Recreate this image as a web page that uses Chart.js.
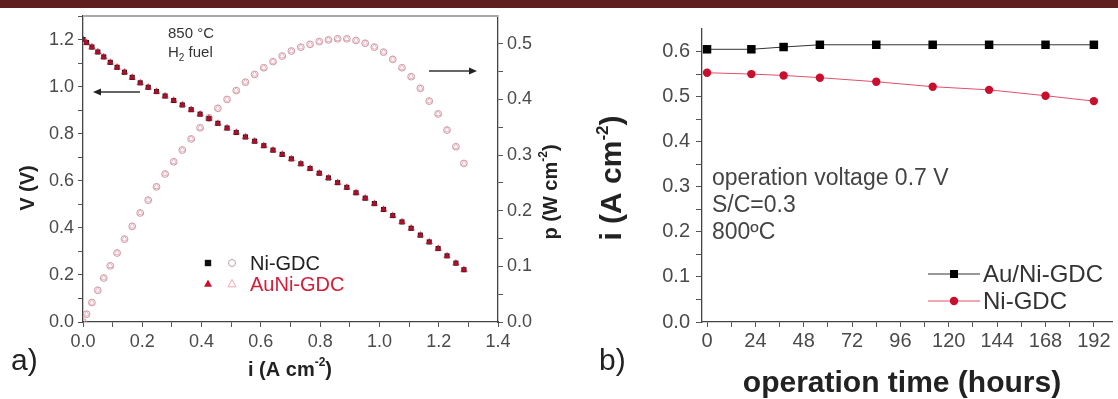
<!DOCTYPE html>
<html>
<head>
<meta charset="utf-8">
<script src="https://cdn.jsdelivr.net/npm/chart.js@4.4.1/dist/chart.umd.min.js"></script>
<style>
  html, body { margin: 0; padding: 0; background: #fff; }
  body { width: 1118px; height: 399px; position: relative; overflow: hidden; }
  #band { position: absolute; left: 0; top: 0; width: 1118px; height: 8px; background: #5f1f1f; }
  #chartA { position: absolute; left: 0; top: 0; }
  #chartB { position: absolute; left: 560px; top: 0; }
</style>
</head>
<body>
<canvas id="chartA" width="600" height="399"></canvas>
<canvas id="chartB" width="558" height="399"></canvas>
<div id="band"></div>
<script>
// ---- panel a) : V-i and p-i curves at 850 C, H2 fuel
const currentA = [0.000, 0.012, 0.030, 0.050, 0.070, 0.092, 0.115, 0.140, 0.166, 0.193, 0.220, 0.248, 0.277, 0.306, 0.335, 0.365, 0.395, 0.425, 0.455, 0.486, 0.517, 0.548, 0.579, 0.610, 0.641, 0.672, 0.703, 0.735, 0.766, 0.797, 0.828, 0.859, 0.890, 0.921, 0.952, 0.983, 1.014, 1.045, 1.076, 1.107, 1.138, 1.168, 1.198, 1.228, 1.258, 1.285];
const voltNi = [1.200, 1.187, 1.168, 1.147, 1.126, 1.103, 1.082, 1.061, 1.039, 1.016, 0.997, 0.979, 0.960, 0.941, 0.922, 0.902, 0.883, 0.864, 0.844, 0.824, 0.805, 0.786, 0.768, 0.749, 0.730, 0.712, 0.693, 0.672, 0.652, 0.632, 0.612, 0.592, 0.572, 0.549, 0.526, 0.503, 0.478, 0.452, 0.425, 0.398, 0.369, 0.340, 0.312, 0.281, 0.250, 0.222];
const powerNi = [0.000, 0.014, 0.035, 0.057, 0.079, 0.101, 0.124, 0.149, 0.172, 0.196, 0.219, 0.243, 0.266, 0.288, 0.309, 0.329, 0.349, 0.367, 0.384, 0.400, 0.416, 0.431, 0.445, 0.457, 0.468, 0.478, 0.487, 0.494, 0.499, 0.504, 0.507, 0.509, 0.509, 0.506, 0.501, 0.494, 0.485, 0.472, 0.457, 0.441, 0.420, 0.397, 0.374, 0.345, 0.315, 0.285];
// the AuNi-GDC curves sit on top of the Ni-GDC ones at this resolution
const voltAuNi = voltNi.slice();
const powerAuNi = powerNi.slice();

const iTickLabels = ['0.0', '0.2', '0.4', '0.6', '0.8', '1.0', '1.2', '1.4'];
const vTickLabels = ['0.0', '0.2', '0.4', '0.6', '0.8', '1.0', '1.2'];
const pTickLabels = ['0.0', '0.1', '0.2', '0.3', '0.4', '0.5'];

// ---- panel b) : current at 0.7 V vs operation time, 800 C
const hours = [0, 22, 38, 56, 84, 112, 140, 168, 192];
const auNiCurrent = [0.605, 0.605, 0.610, 0.615, 0.615, 0.615, 0.615, 0.615, 0.615];
const niCurrent = [0.553, 0.550, 0.547, 0.542, 0.533, 0.522, 0.515, 0.502, 0.490];

const hourTickLabels = ['0', '24', '48', '72', '96', '120', '144', '168', '192'];
const iTickLabelsB = ['0.0', '0.1', '0.2', '0.3', '0.4', '0.5', '0.6'];

const TICK_FONT = 'Liberation Sans, Arial, sans-serif';

function toXY(xs, ys) {
  return xs.map((x, k) => ({ x: x, y: ys[k] }));
}

// label only where a value matches one of the given tick labels
function labelFrom(list) {
  return function (value) {
    const hit = list.find(l => Math.abs(parseFloat(l) - value) < 1e-6);
    return hit === undefined ? '' : hit;
  };
}

// major ticks from the labels plus one minor tick in between
function ticksFrom(list) {
  return function (scale) {
    const vals = list.map(parseFloat);
    const out = [];
    for (let k = 0; k < vals.length; k++) {
      out.push({ value: vals[k] });
      if (k < vals.length - 1) out.push({ value: (vals[k] + vals[k + 1]) / 2 });
    }
    scale.ticks = out;
  };
}

function axis(opts) {
  return Object.assign({
    type: 'linear',
    grid: { drawOnChartArea: false, drawTicks: true, tickLength: 5, color: '#555', tickColor: '#555' },
    border: { display: true, color: '#444', width: 1.3 },
  }, opts);
}

// text made of pieces (for sub / superscripts)
function richText(ctx, parts, x, y, align, rot) {
  ctx.save();
  ctx.translate(x, y);
  if (rot) ctx.rotate(rot);
  ctx.textBaseline = 'middle';
  ctx.textAlign = 'left';
  let total = 0;
  parts.forEach(p => { ctx.font = p.font; total += ctx.measureText(p.t).width; });
  let cx = align === 'center' ? -total / 2 : 0;
  parts.forEach(p => {
    ctx.font = p.font;
    ctx.fillStyle = p.color || '#222';
    ctx.fillText(p.t, cx, p.dy || 0);
    cx += ctx.measureText(p.t).width;
  });
  ctx.restore();
}

function arrow(ctx, x1, x2, y) {
  const dir = x2 > x1 ? 1 : -1;
  ctx.save();
  ctx.strokeStyle = '#333';
  ctx.fillStyle = '#222';
  ctx.lineWidth = 1.5;
  ctx.beginPath();
  ctx.moveTo(x1, y);
  ctx.lineTo(x2 - dir * 6, y);
  ctx.stroke();
  ctx.beginPath();
  ctx.moveTo(x2, y);
  ctx.lineTo(x2 - dir * 8, y - 3.5);
  ctx.lineTo(x2 - dir * 8, y + 3.5);
  ctx.closePath();
  ctx.fill();
  ctx.restore();
}

function marker(ctx, style, x, y, r, fill, stroke) {
  ctx.save();
  ctx.beginPath();
  if (style === 'rect') {
    ctx.rect(x - r, y - r, 2 * r, 2 * r);
  } else if (style === 'triangle') {
    ctx.moveTo(x, y - r * 1.15);
    ctx.lineTo(x + r, y + r * 0.7);
    ctx.lineTo(x - r, y + r * 0.7);
    ctx.closePath();
  } else {
    ctx.arc(x, y, r, 0, Math.PI * 2);
  }
  if (fill) { ctx.fillStyle = fill; ctx.fill(); }
  if (stroke) { ctx.strokeStyle = stroke; ctx.lineWidth = 1; ctx.stroke(); }
  ctx.restore();
}

const decorA = {
  id: 'decorA',
  afterDraw(chart) {
    const ctx = chart.ctx;
    const a = chart.chartArea;
    // top frame
    ctx.save();
    ctx.strokeStyle = '#aaa';
    ctx.lineWidth = 2;
    ctx.beginPath();
    ctx.moveTo(a.left, a.top);
    ctx.lineTo(a.right, a.top);
    ctx.stroke();
    ctx.restore();

    richText(ctx, [{ t: '850 \u00B0C', font: '15px Liberation Sans, Arial', color: '#333' }], 168, 34, 'left');
    richText(ctx, [
      { t: 'H', font: '15px Liberation Sans, Arial', color: '#333' },
      { t: '2', font: '10px Liberation Sans, Arial', color: '#333', dy: 5 },
      { t: ' fuel', font: '15px Liberation Sans, Arial', color: '#333' }
    ], 168, 53, 'left');

    arrow(ctx, 140, 93, 92);
    arrow(ctx, 429, 477, 71);

    // legend
    marker(ctx, 'rect', 208, 263, 3.2, '#111', null);
    marker(ctx, 'circle', 232, 263, 3.5, null, '#b9a0a6');
    richText(ctx, [{ t: 'Ni-GDC', font: '20px Liberation Sans, Arial', color: '#222' }], 250, 264, 'left');
    marker(ctx, 'triangle', 208, 284, 4, '#c8102e', null);
    marker(ctx, 'triangle', 232, 284, 4, null, '#f0a5b3');
    richText(ctx, [{ t: 'AuNi-GDC', font: '20px Liberation Sans, Arial', color: '#d0203a' }], 250, 285, 'left');

    // axis titles
    const bold = 'bold 20px Liberation Sans, Arial';
    const sup = 'bold 12px Liberation Sans, Arial';
    richText(ctx, [{ t: 'V (V)', font: bold }], 28, 188, 'center', -Math.PI / 2);
    richText(ctx, [
      { t: 'i (A cm', font: bold }, { t: '-2', font: sup, dy: -7 }, { t: ')', font: bold }
    ], 290, 370, 'center');
    richText(ctx, [
      { t: 'p (W cm', font: bold }, { t: '-2', font: sup, dy: -7 }, { t: ')', font: bold }
    ], 551, 192, 'center', -Math.PI / 2);

    richText(ctx, [{ t: 'a)', font: '30px Liberation Sans, Arial', color: '#222' }], 11, 362, 'left');
  }
};

const chartA = new Chart(document.getElementById('chartA'), {
  type: 'scatter',
  data: {
    datasets: [
      { label: 'Ni-GDC p', data: toXY(currentA, powerNi), yAxisID: 'yP', order: 4,
        pointStyle: 'circle', pointRadius: 3.4, borderWidth: 1,
        borderColor: 'rgba(185,150,158,0.9)', backgroundColor: 'rgba(255,255,255,0)' },
      { label: 'AuNi-GDC p', data: toXY(currentA, powerAuNi), yAxisID: 'yP', order: 3,
        pointStyle: 'triangle', pointRadius: 3.4, borderWidth: 1,
        borderColor: 'rgba(240,160,176,0.85)', backgroundColor: 'rgba(255,255,255,0)' },
      { label: 'Ni-GDC', data: toXY(currentA, voltNi), yAxisID: 'yV', order: 2,
        pointStyle: 'rect', pointRadius: 3.6, borderWidth: 0,
        borderColor: '#111', backgroundColor: '#111' },
      { label: 'AuNi-GDC', data: toXY(currentA, voltAuNi), yAxisID: 'yV', order: 1,
        pointStyle: 'triangle', pointRadius: 4.2, borderWidth: 0,
        borderColor: '#d01030', backgroundColor: 'rgba(208,16,48,0.8)' }
    ]
  },
  options: {
    responsive: false,
    animation: false,
    devicePixelRatio: 1,
    layout: { padding: { top: 16, left: 0, right: 0, bottom: 0 } },
    plugins: { legend: { display: false }, tooltip: { enabled: false } },
    scales: {
      x: axis({
        position: 'bottom', min: 0, max: 1.4,
        ticks: { autoSkip: false, maxRotation: 0, padding: 4, color: '#4a4a4a',
                 font: { family: TICK_FONT, size: 18 }, callback: labelFrom(iTickLabels) },
        afterBuildTicks: ticksFrom(iTickLabels),
        afterFit(s) { s.height = 77; }
      }),
      yV: axis({
        position: 'left', min: 0, max: 1.3,
        ticks: { autoSkip: false, padding: 4, color: '#4a4a4a',
                 font: { family: TICK_FONT, size: 18 }, callback: labelFrom(vTickLabels) },
        afterBuildTicks: ticksFrom(vTickLabels.concat(['1.4'])),
        afterFit(s) { s.width = 83; }
      }),
      yP: axis({
        position: 'right', min: 0, max: 0.55,
        ticks: { autoSkip: false, padding: 4, color: '#4a4a4a',
                 font: { family: TICK_FONT, size: 18 }, callback: labelFrom(pTickLabels) },
        afterBuildTicks: ticksFrom(pTickLabels),
        afterFit(s) { s.width = 102; }
      })
    }
  },
  plugins: [decorA]
});

const decorB = {
  id: 'decorB',
  afterDraw(chart) {
    const ctx = chart.ctx;
    const reg = '23px Liberation Sans, Arial';
    richText(ctx, [{ t: 'operation voltage 0.7 V', font: reg, color: '#444' }], 152, 179, 'left');
    richText(ctx, [{ t: 'S/C=0.3', font: reg, color: '#444' }], 152, 206, 'left');
    richText(ctx, [{ t: '800\u00BAC', font: reg, color: '#444' }], 152, 233, 'left');

    // legend
    ctx.save();
    ctx.lineWidth = 1;
    ctx.strokeStyle = '#333';
    ctx.beginPath(); ctx.moveTo(368, 274); ctx.lineTo(420, 274); ctx.stroke();
    ctx.strokeStyle = '#e0506a';
    ctx.beginPath(); ctx.moveTo(368, 301); ctx.lineTo(420, 301); ctx.stroke();
    ctx.restore();
    marker(ctx, 'rect', 394, 274, 4, '#000', null);
    marker(ctx, 'circle', 394, 301, 4.2, '#c8102e', null);
    richText(ctx, [{ t: 'Au/Ni-GDC', font: '24px Liberation Sans, Arial', color: '#333' }], 423, 275, 'left');
    richText(ctx, [{ t: 'Ni-GDC', font: '24px Liberation Sans, Arial', color: '#333' }], 423, 302, 'left');

    const bold = 'bold 30px Liberation Sans, Arial';
    const sup = 'bold 17px Liberation Sans, Arial';
    richText(ctx, [
      { t: 'i (A cm', font: bold }, { t: '-2', font: sup, dy: -10 }, { t: ')', font: bold }
    ], 53, 178, 'center', -Math.PI / 2);
    richText(ctx, [{ t: 'operation time (hours)', font: bold }], 342, 384, 'center');
    richText(ctx, [{ t: 'b)', font: '30px Liberation Sans, Arial', color: '#222' }], 39, 362, 'left');
  }
};

const chartB = new Chart(document.getElementById('chartB'), {
  type: 'scatter',
  data: {
    datasets: [
      { label: 'Au/Ni-GDC', data: toXY(hours, auNiCurrent), showLine: true,
        borderColor: '#333', borderWidth: 1, pointStyle: 'rect', pointRadius: 6,
        pointBorderWidth: 0, pointBackgroundColor: '#000', pointBorderColor: '#000' },
      { label: 'Ni-GDC', data: toXY(hours, niCurrent), showLine: true,
        borderColor: '#e0506a', borderWidth: 1, pointStyle: 'circle', pointRadius: 4.2,
        pointBorderWidth: 0, pointBackgroundColor: '#c8102e', pointBorderColor: '#c8102e' }
    ]
  },
  options: {
    responsive: false,
    animation: false,
    devicePixelRatio: 1,
    layout: { padding: { top: 29, left: 0, right: 0, bottom: 0 } },
    plugins: { legend: { display: false }, tooltip: { enabled: false } },
    scales: {
      x: axis({
        position: 'bottom', min: -2.5, max: 201,
        grid: { drawOnChartArea: false, drawTicks: true, tickLength: 5, color: '#555', tickColor: '#555' },
        ticks: { autoSkip: false, maxRotation: 0, padding: 2, color: '#4a4a4a',
                 font: { family: TICK_FONT, size: 20 }, callback: labelFrom(hourTickLabels) },
        afterBuildTicks: ticksFrom(hourTickLabels),
        afterFit(s) { s.height = 77; }
      }),
      y: axis({
        position: 'left', min: 0, max: 0.65,
        grid: { drawOnChartArea: false, drawTicks: true, tickLength: 6, color: '#555', tickColor: '#555' },
        ticks: { autoSkip: false, padding: 6, color: '#4a4a4a',
                 font: { family: TICK_FONT, size: 20 }, callback: labelFrom(iTickLabelsB) },
        afterBuildTicks: ticksFrom(iTickLabelsB),
        afterFit(s) { s.width = 142; }
      })
    }
  },
  plugins: [decorB]
});
</script>
</body>
</html>
